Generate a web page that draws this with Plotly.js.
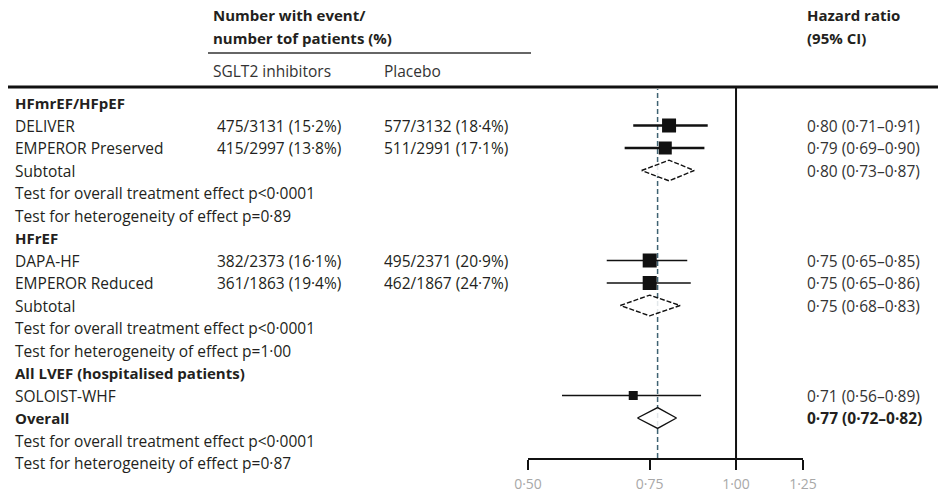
<!DOCTYPE html>
<html>
<head>
<meta charset="utf-8">
<script src="https://cdn.plot.ly/plotly-3.0.1.min.js"></script>
<style>html,body{margin:0;padding:0;background:#fff;}#chart{width:938px;height:496px;}</style>
</head>
<body>
<div id="chart"></div>
<script>
// ---------- DATA ----------
const rowLabels = [
  'HFmrEF/HFpEF',
  'DELIVER',
  'EMPEROR Preserved',
  'Subtotal',
  'Test for overall treatment effect p<0·0001',
  'Test for heterogeneity of effect p=0·89',
  'HFrEF',
  'DAPA-HF',
  'EMPEROR Reduced',
  'Subtotal',
  'Test for overall treatment effect p<0·0001',
  'Test for heterogeneity of effect p=1·00',
  'All LVEF (hospitalised patients)',
  'SOLOIST-WHF',
  'Overall',
  'Test for overall treatment effect p<0·0001',
  'Test for heterogeneity of effect p=0·87'
];
const boldRows = [0, 6, 12, 14];

const studyNames = ['DELIVER', 'EMPEROR Preserved', 'DAPA-HF', 'EMPEROR Reduced', 'SOLOIST-WHF'];
const studyRows = [1, 2, 7, 8, 13];
const sglt2Events = ['475/3131 (15·2%)', '415/2997 (13·8%)', '382/2373 (16·1%)', '361/1863 (19·4%)', ''];
const placeboEvents = ['577/3132 (18·4%)', '511/2991 (17·1%)', '495/2371 (20·9%)', '462/1867 (24·7%)', ''];
const studyHR = [0.80, 0.79, 0.75, 0.75, 0.71];
const studyLo = [0.71, 0.69, 0.65, 0.65, 0.56];
const studyHi = [0.91, 0.90, 0.85, 0.86, 0.89];

const pooledNames = ['Subtotal HFmrEF/HFpEF', 'Subtotal HFrEF', 'Overall'];
const pooledRows = [3, 9, 14];
const pooledHR = [0.80, 0.75, 0.77];
const pooledLo = [0.73, 0.68, 0.72];
const pooledHi = [0.87, 0.83, 0.82];

const tickVals = [0.50, 0.75, 1.00, 1.25];
const tickLabels = ['0·50', '0·75', '1·00', '1·25'];

const fmt = v => v.toFixed(2).replace('.', '·');

// ---------- LAYOUT GEOMETRY ----------
const W = 938, H = 496;
const L = 528, R = 803, T = 87, B = 458;
const rowTop = 103, rowStep = 22.5;
const pxX = p => (p - L) / (R - L);
const pxY = p => (B - p) / (B - T);
const rowPaper = r => pxY(rowTop + rowStep * r);
const yTopVal = (T - rowTop) / rowStep;
const yBotVal = (B - rowTop) / rowStep;

// study style (marker sizes reflect weights)
const markerSizes = [14, 13, 14, 14, 9];
const ciWidths = [2.6, 2.6, 1.6, 1.6, 1.4];

const txtColor = '#231f20';
const FONT = 'Open Sans, Noto Sans, sans-serif';
const FS = 15.5;      // regular text
const FSB = 15;       // bold row labels
const FSH = 15;       // bold headers

const traces = [];
// CI lines
studyNames.forEach((n, i) => {
  traces.push({
    type: 'scatter', mode: 'lines',
    x: [studyLo[i], studyHi[i]], y: [studyRows[i], studyRows[i]],
    line: {color: '#111', width: ciWidths[i]},
    hoverinfo: 'skip', showlegend: false, cliponaxis: false
  });
});
// squares
traces.push({
  type: 'scatter', mode: 'markers',
  x: studyHR, y: studyRows, text: studyNames,
  marker: {symbol: 'square', size: markerSizes, color: '#111', opacity: 1, line: {width: 0}},
  showlegend: false, cliponaxis: false
});
// diamonds
pooledNames.forEach((n, i) => {
  const r = pooledRows[i], h = 0.46;
  traces.push({
    type: 'scatter', mode: 'lines',
    x: [pooledLo[i], pooledHR[i], pooledHi[i], pooledHR[i], pooledLo[i]],
    y: [r, r - h, r, r + h, r],
    fill: 'toself', fillcolor: 'rgba(255,255,255,0.85)',
    line: {color: '#111', width: 1.4, dash: i < 2 ? '5px,2px' : 'solid'},
    name: n, showlegend: false, cliponaxis: false
  });
});

const annotations = [];
const ann = (text, x, y, size, color) => annotations.push({
  text: text, x: x, y: y, xref: 'paper', yref: 'paper',
  xanchor: 'left', yanchor: 'middle', showarrow: false,
  font: {family: FONT, size: size || FS, color: color || txtColor}
});

rowLabels.forEach((t, i) => {
  const bold = boldRows.includes(i);
  ann(bold ? '<b>' + t + '</b>' : t, pxX(13), rowPaper(i), bold ? FSB : FS);
});
studyNames.forEach((n, i) => {
  if (sglt2Events[i]) ann(sglt2Events[i], pxX(215), rowPaper(studyRows[i]));
  if (placeboEvents[i]) ann(placeboEvents[i], pxX(382), rowPaper(studyRows[i]));
  ann(fmt(studyHR[i]) + ' (' + fmt(studyLo[i]) + '–' + fmt(studyHi[i]) + ')', pxX(805), rowPaper(studyRows[i]), FS, '#333');
});
pooledNames.forEach((n, i) => {
  const t = fmt(pooledHR[i]) + ' (' + fmt(pooledLo[i]) + '–' + fmt(pooledHi[i]) + ')';
  if (i === 2) ann('<b>' + t + '</b>', pxX(805), rowPaper(pooledRows[i]), FS, txtColor);
  else ann(t, pxX(805), rowPaper(pooledRows[i]), FS, '#333');
});
// headers
ann('<b>Number with event/</b>', pxX(211), pxY(15), FSH);
ann('<b>number tof patients (%)</b>', pxX(211), pxY(38), FSH);
ann('SGLT2 inhibitors', pxX(211), pxY(71), FS, '#333');
ann('Placebo', pxX(382), pxY(71), FS, '#333');
ann('<b>Hazard ratio</b>', pxX(805), pxY(15), FSH);
ann('<b>(95% CI)</b>', pxX(805), pxY(38), FSH);

const shapes = [
  // top thick rule
  {type: 'line', xref: 'paper', yref: 'paper', x0: pxX(8), x1: pxX(938), y0: pxY(87), y1: pxY(87),
   line: {color: '#111', width: 3}},
  // header rule
  {type: 'line', xref: 'paper', yref: 'paper', x0: pxX(208), x1: pxX(531), y0: pxY(53), y1: pxY(53),
   line: {color: '#333', width: 1.5}},
  // line of no effect
  {type: 'line', xref: 'x', yref: 'paper', x0: 1, x1: 1, y0: 0, y1: 1,
   line: {color: '#111', width: 2}, layer: 'below'},
  // overall estimate dashed
  {type: 'line', xref: 'x', yref: 'paper', x0: pooledHR[2], x1: pooledHR[2], y0: 0, y1: pxY(89),
   line: {color: '#3e6272', width: 1.5, dash: '5px,3px'}, layer: 'below'}
];

const layout = {
  width: W, height: H,
  margin: {l: L, r: W - R, t: T, b: H - B, pad: 0},
  paper_bgcolor: '#fff', plot_bgcolor: '#fff',
  showlegend: false,
  xaxis: {
    type: 'log', range: [Math.log10(0.5), Math.log10(1.25)],
    tickvals: tickVals, ticktext: tickLabels,
    ticks: 'outside', ticklen: 10, tickwidth: 2, tickcolor: '#111',
    showline: true, linecolor: '#111', linewidth: 2,
    showgrid: false, zeroline: false, fixedrange: true,
    tickfont: {family: FONT, size: 14, color: '#a8a8a8'},
    ticklabelstandoff: 2
  },
  yaxis: {
    range: [yBotVal, yTopVal], showticklabels: false, showgrid: false,
    zeroline: false, showline: false, ticks: '', fixedrange: true
  },
  shapes: shapes,
  annotations: annotations
};

Plotly.newPlot('chart', traces, layout, {displayModeBar: false, staticPlot: true});
</script>
</body>
</html>
